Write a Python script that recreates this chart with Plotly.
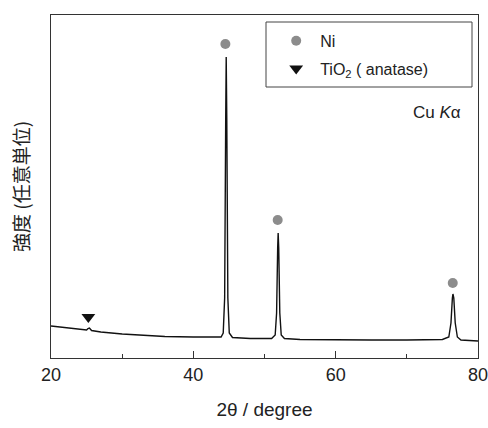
import plotly.graph_objects as go

# XRD profile (2theta in degrees, intensity in arbitrary units)
two_theta = [20, 22, 24, 25.0, 25.2, 25.4, 25.7, 27, 30, 33, 36, 40, 43, 43.9,
             44.2, 44.4, 44.55, 44.62, 44.7, 44.85, 45.05, 45.5, 48, 51.0,
             51.5, 51.7, 51.85, 51.92, 52.0, 52.15, 52.35, 52.8, 55, 60, 65, 70,
             75, 75.9, 76.2, 76.4, 76.48, 76.6, 76.8, 77.1, 77.6, 80]
intensity = [32, 30.5, 29, 28, 29.5, 30, 27.5, 26, 24, 22.5, 21.5, 21, 20.5, 21,
             25, 60, 240, 301, 240, 60, 25, 20.5, 19.5, 19.5,
             23, 45, 110, 125, 110, 45, 23, 19.5, 18.5, 18, 18, 18,
             18.5, 21, 35, 60, 64, 60, 35, 21, 18, 17]

ni_pos = [44.5, 51.85, 76.45]
ni_mark = [314, 138, 75]
tio2_pos = [25.25]
tio2_mark = [41]

x_ticks = [20, 40, 60, 80]

fig = go.Figure()
fig.add_trace(go.Scatter(x=two_theta, y=intensity, mode="lines",
                         line=dict(color="#111111", width=1.4), showlegend=False,
                         hoverinfo="skip"))
fig.add_trace(go.Scatter(x=ni_pos, y=ni_mark, mode="markers", name="Ni",
                         legendgroup="ni",
                         marker=dict(symbol="circle", size=10, color="#8c8c8c")))
fig.add_trace(go.Scatter(x=tio2_pos, y=tio2_mark, mode="markers",
                         name="TiO<sub>2</sub> ( anatase)", legendgroup="tio2",
                         marker=dict(symbol="triangle-down", size=12, color="#111111")))

font = "Liberation Sans, Arial, Noto Sans CJK JP, sans-serif"
fig.update_layout(
    width=488, height=428,
    margin=dict(l=51, r=10, t=15, b=70, autoexpand=False),
    paper_bgcolor="white", plot_bgcolor="white",
    font=dict(family=font, color="#222222", size=17),
    xaxis=dict(range=[20, 80], tickvals=x_ticks, ticks="inside", ticklen=7,
               tickcolor="#333333", showline=True, linecolor="#333333", linewidth=1,
               mirror=True, showgrid=False, zeroline=False, automargin=False,
               ticklabeloverflow="allow",
               minor=dict(ticks="inside", ticklen=4, dtick=10, tick0=20,
                          tickcolor="#333333", showgrid=False),
               title=dict(text="2θ / degree", font=dict(size=19), standoff=19),
               tickfont=dict(size=18)),
    yaxis=dict(range=[0, 343], showticklabels=False, ticks="", showline=True,
               linecolor="#333333", linewidth=1, mirror=True, showgrid=False,
               zeroline=False, automargin=False,
               title=dict(text="強度 (任意単位)", font=dict(size=19,
                          family="Noto Sans CJK JP, Liberation Sans, sans-serif"),
                          standoff=15)),
    legend=dict(x=0.518, y=0.974, xanchor="left", yanchor="top",
                bgcolor="rgba(0,0,0,0)", borderwidth=0,
                font=dict(size=16), itemwidth=38, tracegroupgap=4),
    shapes=[dict(type="rect", xref="paper", yref="paper",
                 x0=(266 - 51) / 427, x1=(472 - 51) / 427,
                 y0=(358 - 87) / 343, y1=(358 - 22) / 343,
                 line=dict(color="#444444", width=1))],
    annotations=[dict(text="Cu <i>K</i>α", xref="paper", yref="paper",
                      x=(463 - 51) / 427, y=(358 - 112) / 343,
                      xanchor="right", yanchor="middle", showarrow=False,
                      font=dict(size=17))],
)

fig.write_html("out.html",
               config={"displayModeBar": False},
               post_script="document.body.style.margin='0';"
                           "document.body.style.overflow='hidden';")
